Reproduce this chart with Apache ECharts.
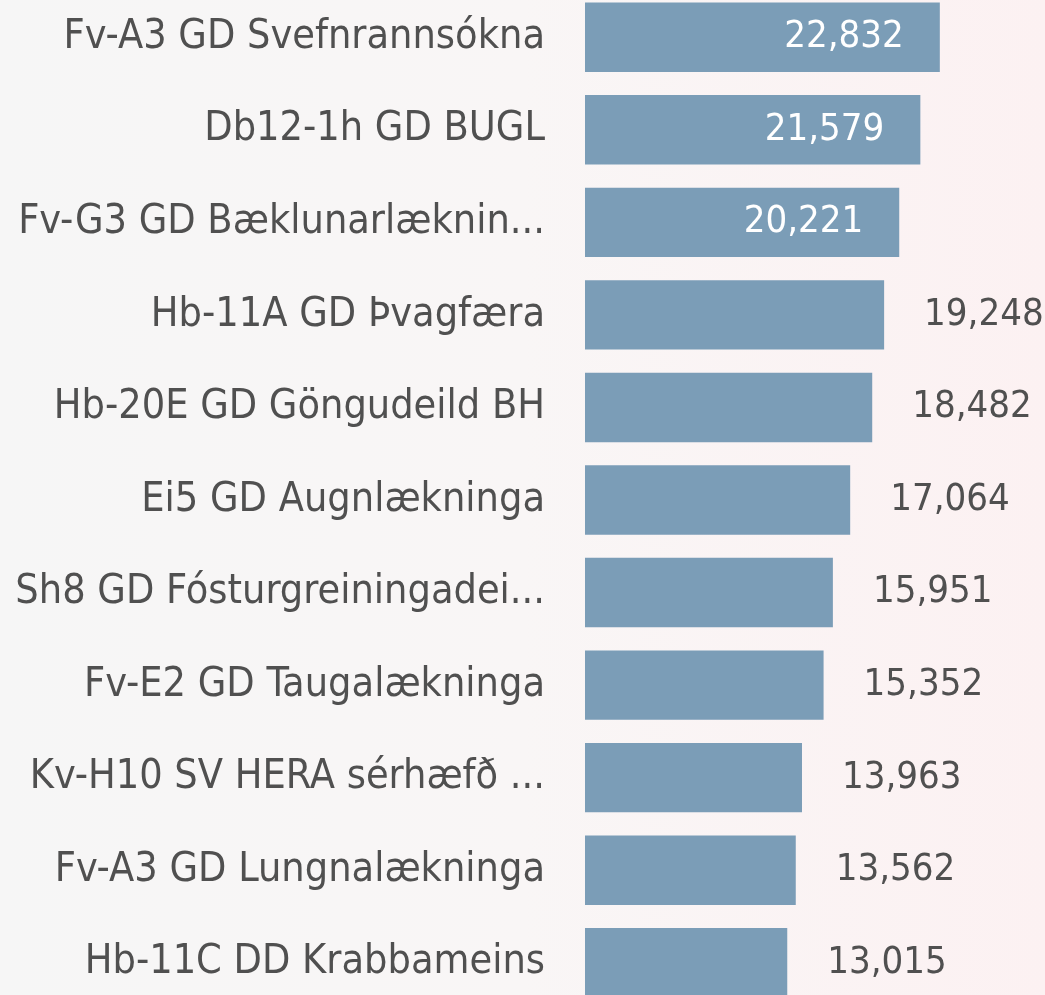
<!DOCTYPE html>
<html>
<head>
<meta charset="utf-8">
<script src="https://cdn.jsdelivr.net/npm/echarts@6/dist/echarts.min.js"></script>
<style>
    html, body { margin: 0; padding: 0; background: #f7f5f5; }
    #chart { width: 1045px; height: 995px; }
</style>
</head>
<body>
<div id="chart"></div>
<script>
// deildir (flokkar)
var categories = [
    'Fv-A3 GD Svefnrannsókna',
    'Db12-1h GD BUGL',
    'Fv-G3 GD Bæklunarlæknin...',
    'Hb-11A GD Þvagfæra',
    'Hb-20E GD Göngudeild BH',
    'Ei5 GD Augnlækninga',
    'Sh8 GD Fósturgreiningadei...',
    'Fv-E2 GD Taugalækninga',
    'Kv-H10 SV HERA sérhæfð ...',
    'Fv-A3 GD Lungnalækninga',
    'Hb-11C DD Krabbameins'
];
// gildi
var values = [22832, 21579, 20221, 19248, 18482, 17064, 15951, 15352, 13963, 13562, 13015];
// fjöldi efstu súlna með merki inni í súlunni
var insideCount = 3;

var myChart = echarts.init(document.getElementById('chart'));

var seriesData = values.map(function (v, i) {
    if (i < insideCount) {
        return {
            value: v,
            label: { position: 'insideRight', color: '#ffffff', distance: 36 }
        };
    }
    return v;
});

var option = {
    backgroundColor: {
        type: 'linear', x: 0, y: 0, x2: 1, y2: 0,
        colorStops: [
            { offset: 0, color: '#f6f6f6' },
            { offset: 0.5, color: '#f9f6f6' },
            { offset: 1, color: '#fcf1f2' }
        ]
    },
    animation: false,
    grid: {
        left: 585,
        right: 0,
        top: -9,
        height: 1018,
        containLabel: false,
        outerBoundsMode: 'none'
    },
    xAxis: {
        type: 'value',
        min: 0,
        max: 29600,
        show: false,
        splitLine: { show: false }
    },
    yAxis: {
        type: 'category',
        inverse: true,
        data: categories,
        axisLine: { show: false },
        axisTick: { show: false },
        axisLabel: {
            margin: 40,
            color: '#505050',
            fontSize: 41,
            fontFamily: 'DejaVu Sans Condensed'
        }
    },
    series: [
        {
            type: 'bar',
            data: seriesData,
            barCategoryGap: '25%',
            itemStyle: { color: '#7b9db7' },
            label: {
                show: true,
                position: 'right',
                distance: 40,
                color: '#505050',
                fontSize: 38,
                fontFamily: 'DejaVu Sans Condensed',
                formatter: function (p) {
                    return p.value.toLocaleString('en-US');
                }
            }
        }
    ]
};
myChart.setOption(option);
</script>
</body>
</html>
